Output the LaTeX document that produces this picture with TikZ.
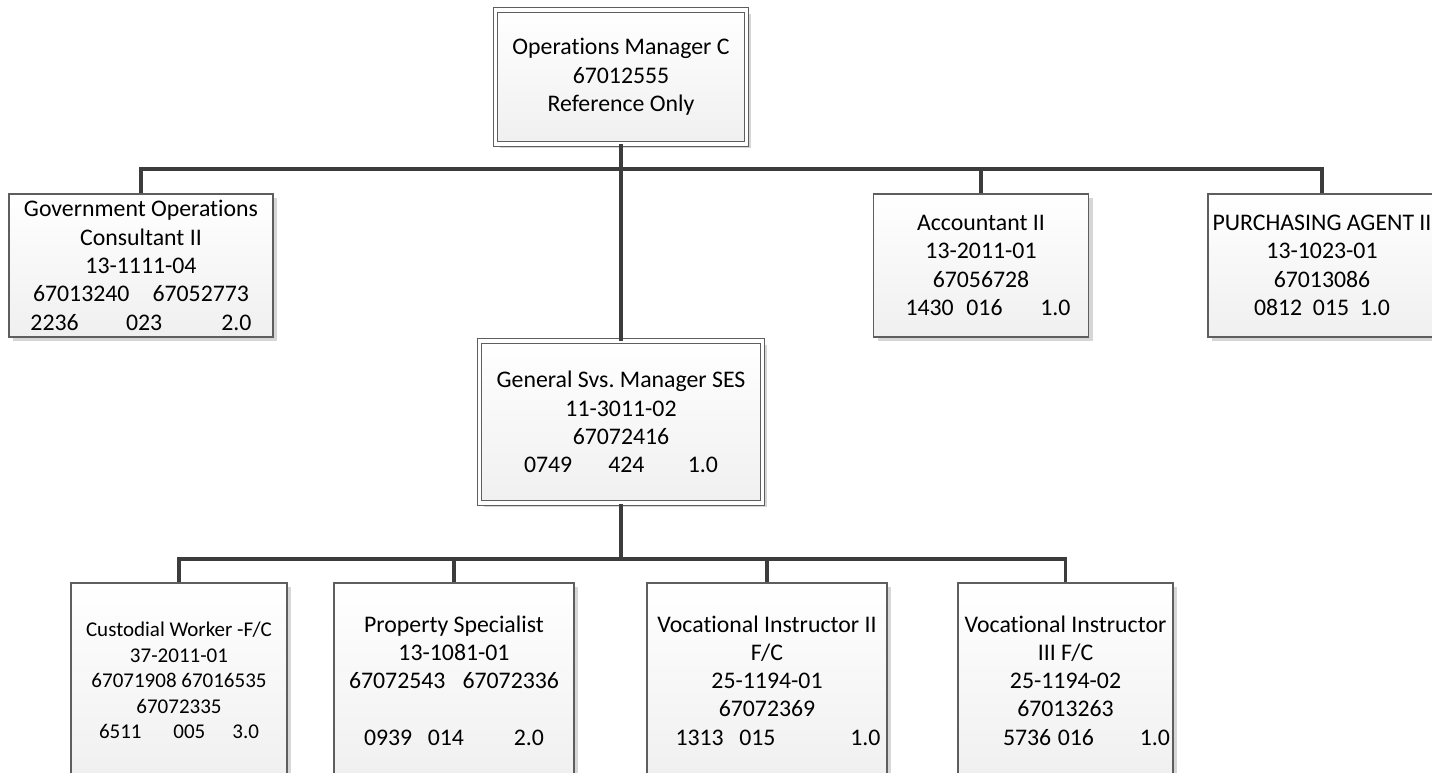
\documentclass[tikz,border=0pt]{standalone}
\usepackage{fontspec}
\setmainfont{Carlito}[Ligatures={NoCommon}]
\usetikzlibrary{shadows}
\definecolor{linegray}{HTML}{3C3C3C}
\definecolor{boxline}{HTML}{5E5E5E}
\definecolor{shadowgray}{HTML}{D6D6D6}
\frenchspacing
\begin{document}
\begin{tikzpicture}[x=1pt,y=-1pt,
  card/.style={draw=boxline, line width=1.1pt, top color=white, bottom color=black!6,
    inner sep=0pt, align=center, font=\fontsize{23.8}{28.3}\selectfont,
    drop shadow={shadow xshift=4pt, shadow yshift=-4pt, opacity=1, fill=shadowgray}},
  headcard/.style={card, double=white, double distance=3.2pt, line width=1pt},
  smalltext/.style={font=\fontsize{21}{25.4}\selectfont},
  conn/.style={draw=linegray, line width=3.2pt}
]
\useasboundingbox (0,0) rectangle (1432,773);
\clip (0,0) rectangle (1432,773);

% top of the hierarchy
\node[headcard, minimum width=251pt, minimum height=134pt] (ops) at (621,77)
  {Operations Manager C\\67012555\\Reference Only};

% direct reports
\node[card, minimum width=264pt, minimum height=143pt] (goc) at (141,265.5)
  {Government Operations\\Consultant II\\13-1111-04\\
   \makebox[216pt]{67013240\hfill 67052773}\\
   \makebox[221pt]{2236\hspace{\stretch{1}}023\hspace{\stretch{1.25}}2.0}};
\node[card, minimum width=215pt, minimum height=143pt] (acc) at (981,265.5)
  {Accountant II\\13-2011-01\\67056728\\
   \hspace*{14pt}\makebox[165pt]{1430\hspace{\stretch{1}}016\hspace{\stretch{3}}1.0}};
\node[card, minimum width=228pt, minimum height=143pt] (pur) at (1322,265.5)
  {PURCHASING AGENT II\\13-1023-01\\67013086\\
   \makebox[136pt]{0812\hfill 015\hfill 1.0}};
\node[headcard, minimum width=283pt, minimum height=162pt] (gsm) at (621,422)
  {General Svs. Manager SES\\11-3011-02\\67072416\\
   \makebox[194pt]{0749\hspace{\stretch{1}}424\hspace{\stretch{1.2}}1.0}};

% general services staff
\node[card, smalltext, minimum width=216pt, minimum height=195pt] (cus) at (179,680.5)
  {Custodial Worker -F/C\\37-2011-01\\67071908 67016535\\67072335\\
   \makebox[160pt]{6511\hspace{\stretch{1}}005\hspace{\stretch{0.85}}3.0}};
\node[card, minimum width=240pt, minimum height=195pt] (prs) at (454,680.5)
  {Property Specialist\\13-1081-01\\
   \makebox[210pt]{67072543\hfill 67072336}\\[28.3pt]
   \makebox[180pt]{0939\hspace{\stretch{1}}014\hspace{\stretch{3.2}}2.0}};
\node[card, minimum width=240pt, minimum height=195pt] (vi2) at (767,680.5)
  {Vocational Instructor II\\F/C\\25-1194-01\\67072369\\
   \hspace*{22pt}\makebox[205pt]{1313\hspace{\stretch{1}}015\hspace{\stretch{4.8}}1.0}};
\node[card, minimum width=215pt, minimum height=195pt] (vi3) at (1065.5,680.5)
  {Vocational Instructor\\III F/C\\25-1194-02\\67013263\\
   \hspace*{42pt}\makebox[167pt]{5736\hspace{\stretch{1}}016\hspace{\stretch{7}}1.0}};

% reporting lines
\coordinate (bus1) at (621,169);
\coordinate (bus2) at (621,559);
\draw[conn] (goc.north) -- (goc.north |- bus1) -- (pur.north |- bus1) -- (pur.north);
\draw[conn] (acc.north) -- (acc.north |- bus1);
\draw[conn] (ops.south) -- (gsm.north);
\draw[conn] (gsm.south) -- (gsm.south |- bus2);
\draw[conn] (cus.north) -- (cus.north |- bus2) -- (vi3.north |- bus2) -- (vi3.north);
\draw[conn] (prs.north) -- (prs.north |- bus2);
\draw[conn] (vi2.north) -- (vi2.north |- bus2);
\end{tikzpicture}
\end{document}
